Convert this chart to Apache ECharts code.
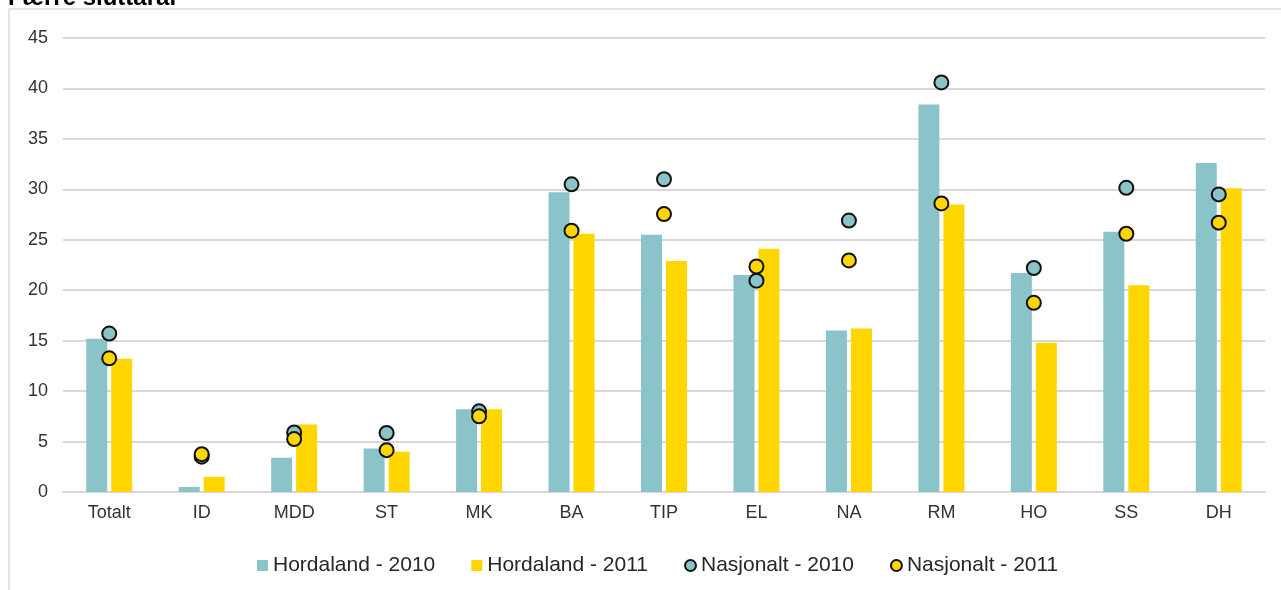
<!DOCTYPE html>
<html>
<head>
<meta charset="utf-8">
<script src="https://cdn.jsdelivr.net/npm/echarts@6/dist/echarts.min.js"></script>
<style>
	html, body { margin: 0; padding: 0; background: #fff; }
	#chart { width: 1281px; height: 590px; }
</style>
</head>
<body>
<div id="chart"></div>
<script>
var categories = ['Totalt', 'ID', 'MDD', 'ST', 'MK', 'BA', 'TIP', 'EL', 'NA', 'RM', 'HO', 'SS', 'DH'];
var hordaland2010 = [15.2, 0.5, 3.4, 4.3, 8.2, 29.7, 25.5, 21.5, 16.0, 38.4, 21.7, 25.8, 32.6];
var hordaland2011 = [13.2, 1.5, 6.7, 4.0, 8.2, 25.6, 22.9, 24.1, 16.2, 28.5, 14.8, 20.5, 30.1];
var nasjonalt2010 = [15.7, 3.5, 5.9, 5.85, 8.0, 30.5, 31.0, 20.95, 26.9, 40.6, 22.2, 30.15, 29.5];
var nasjonalt2011 = [13.25, 3.75, 5.25, 4.15, 7.5, 25.9, 27.55, 22.35, 22.95, 28.6, 18.75, 25.6, 26.7];
var yTicks = { min: 0, max: 45, step: 5 };

var tealColor = '#8bc4c8';
var goldColor = '#ffd600';
var gridColor = '#dbd6de';
var font = 'Liberation Sans';

var myChart = echarts.init(document.getElementById('chart'));
var option = {
	animation: false,
	textStyle: { fontFamily: font },
	graphic: [{
		type: 'rect',
		shape: { x: 9, y: 9, width: 1320, height: 620 },
		style: { fill: 'none', stroke: '#dedbe0', lineWidth: 1.5 },
		z: -1
	}, {
		type: 'text',
		x: 8,
		y: 10,
		style: {
			text: 'Færre sluttarar',
			font: 'bold 24px "Liberation Sans"',
			fill: '#000',
			verticalAlign: 'bottom'
		}
	}],
	grid: {
		left: 63,
		right: 16,
		top: 38,
		bottom: 98
	},
	legend: {
		left: 252,
		top: 550,
		itemWidth: 11,
		itemHeight: 11,
		itemGap: 36,
		textStyle: { fontSize: 21, color: '#262626', fontFamily: font },
		data: [
			{ name: 'Hordaland - 2010', icon: 'rect' },
			{ name: 'Hordaland - 2011', icon: 'rect' },
			{ name: 'Nasjonalt - 2010', icon: 'circle' },
			{ name: 'Nasjonalt - 2011', icon: 'circle' }
		]
	},
	xAxis: {
		type: 'category',
		data: categories,
		axisTick: { show: false },
		axisLine: { lineStyle: { color: gridColor, width: 2 } },
		axisLabel: { color: '#333', fontSize: 18, margin: 12 }
	},
	yAxis: {
		type: 'value',
		min: yTicks.min,
		max: yTicks.max,
		interval: yTicks.step,
		axisLine: { show: false },
		axisTick: { show: false },
		axisLabel: { color: '#333', fontSize: 18, margin: 15 },
		splitLine: { lineStyle: { color: gridColor, width: 2 } }
	},
	series: [{
		name: 'Hordaland - 2010',
		type: 'bar',
		barWidth: 21,
		barGap: '19%',
		itemStyle: { color: tealColor },
		data: hordaland2010
	}, {
		name: 'Hordaland - 2011',
		type: 'bar',
		barWidth: 21,
		barGap: '19%',
		itemStyle: { color: goldColor },
		data: hordaland2011
	}, {
		name: 'Nasjonalt - 2010',
		type: 'scatter',
		symbol: 'circle',
		symbolSize: 14,
		z: 5,
		itemStyle: { color: tealColor, borderColor: '#111', borderWidth: 2, opacity: 1 },
		data: nasjonalt2010
	}, {
		name: 'Nasjonalt - 2011',
		type: 'scatter',
		symbol: 'circle',
		symbolSize: 14,
		z: 6,
		itemStyle: { color: goldColor, borderColor: '#111', borderWidth: 2, opacity: 1 },
		data: nasjonalt2011
	}]
};
myChart.setOption(option);
window.addEventListener('resize', function() {
	myChart.resize();
});
</script>
</body>
</html>
